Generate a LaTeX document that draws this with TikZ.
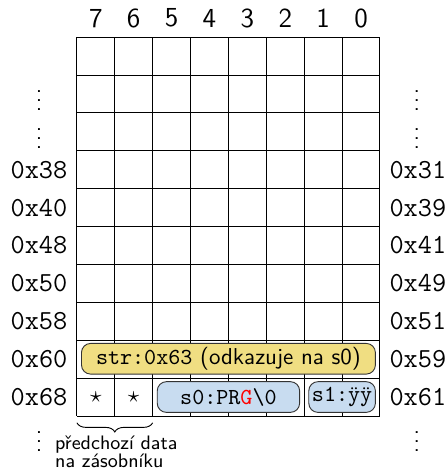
\documentclass[tikz,border=0pt]{standalone}
\usetikzlibrary{decorations.pathreplacing}
\definecolor{strfill}{RGB}{240,222,130}
\definecolor{varfill}{RGB}{200,220,240}
\begin{document}
\begin{tikzpicture}[
        x=0.58cm, y=0.58cm,
        font=\sffamily,
        bitn/.style={font=\large\sffamily},
        addrn/.style={font=\large\ttfamily, inner sep=0pt},
        dotsn/.style={inner sep=0pt},
        varbox/.style={draw=black!80, rounded corners=4pt, inner sep=0pt, minimum height=0.47cm},
        strbox/.style={varbox, fill=strfill},
        sbox/.style={varbox, fill=varfill},
    ]
    \useasboundingbox (-2.03,0.98) rectangle (9.79,-11.4);
    \draw[step=1] (0,-10) grid (8,0);
    % bit numbers
    \foreach \b in {0,...,7}
        \node[bitn] (bit\b) at (7.5-\b,0.5) {\b};
    % addresses
    \foreach \r/\la/\ra in {3/38/31, 4/40/39, 5/48/41, 6/50/49, 7/58/51, 8/60/59, 9/68/61} {
        \node[addrn, anchor=east] (la\r) at (-0.24,-\r-0.5) {0x\la};
        \node[addrn, anchor=west] (ra\r) at (8.24,-\r-0.5) {0x\ra};
    }
    \foreach \r in {1,2,10} {
        \node[dotsn] (ld\r) at (-1,-\r-0.5) {\vdots};
        \node[dotsn] (rd\r) at (8.97,-\r-0.5) {\vdots};
    }
    % variables
    \node[strbox, minimum width=4.5cm] (str) at (4,-8.49) {\texttt{str:0x63} (odkazuje na s0)};
    \node[sbox, minimum width=2.18cm] (s0) at (4,-9.5) {\texttt{s0:PR\textcolor{red}{G}\textbackslash0}};
    \node[sbox, minimum width=1.02cm] (s1) at (7,-9.5) {\texttt{s1:ÿÿ}};
    \node (st7) at (0.5,-9.5) {$\star$};
    \node (st6) at (1.5,-9.5) {$\star$};
    % previous data
    \coordinate (br7) at (0,-10.18);
    \coordinate (br6) at (2,-10.18);
    \draw[decorate, decoration={brace, mirror, amplitude=4pt}] (br7) -- (br6);
    \node[font=\fontsize{8.5}{7.9}\selectfont\sffamily, align=left, inner sep=0pt] (prev) at (1.04,-10.95) {předchozí data\\na zásobníku};
\end{tikzpicture}
\end{document}
